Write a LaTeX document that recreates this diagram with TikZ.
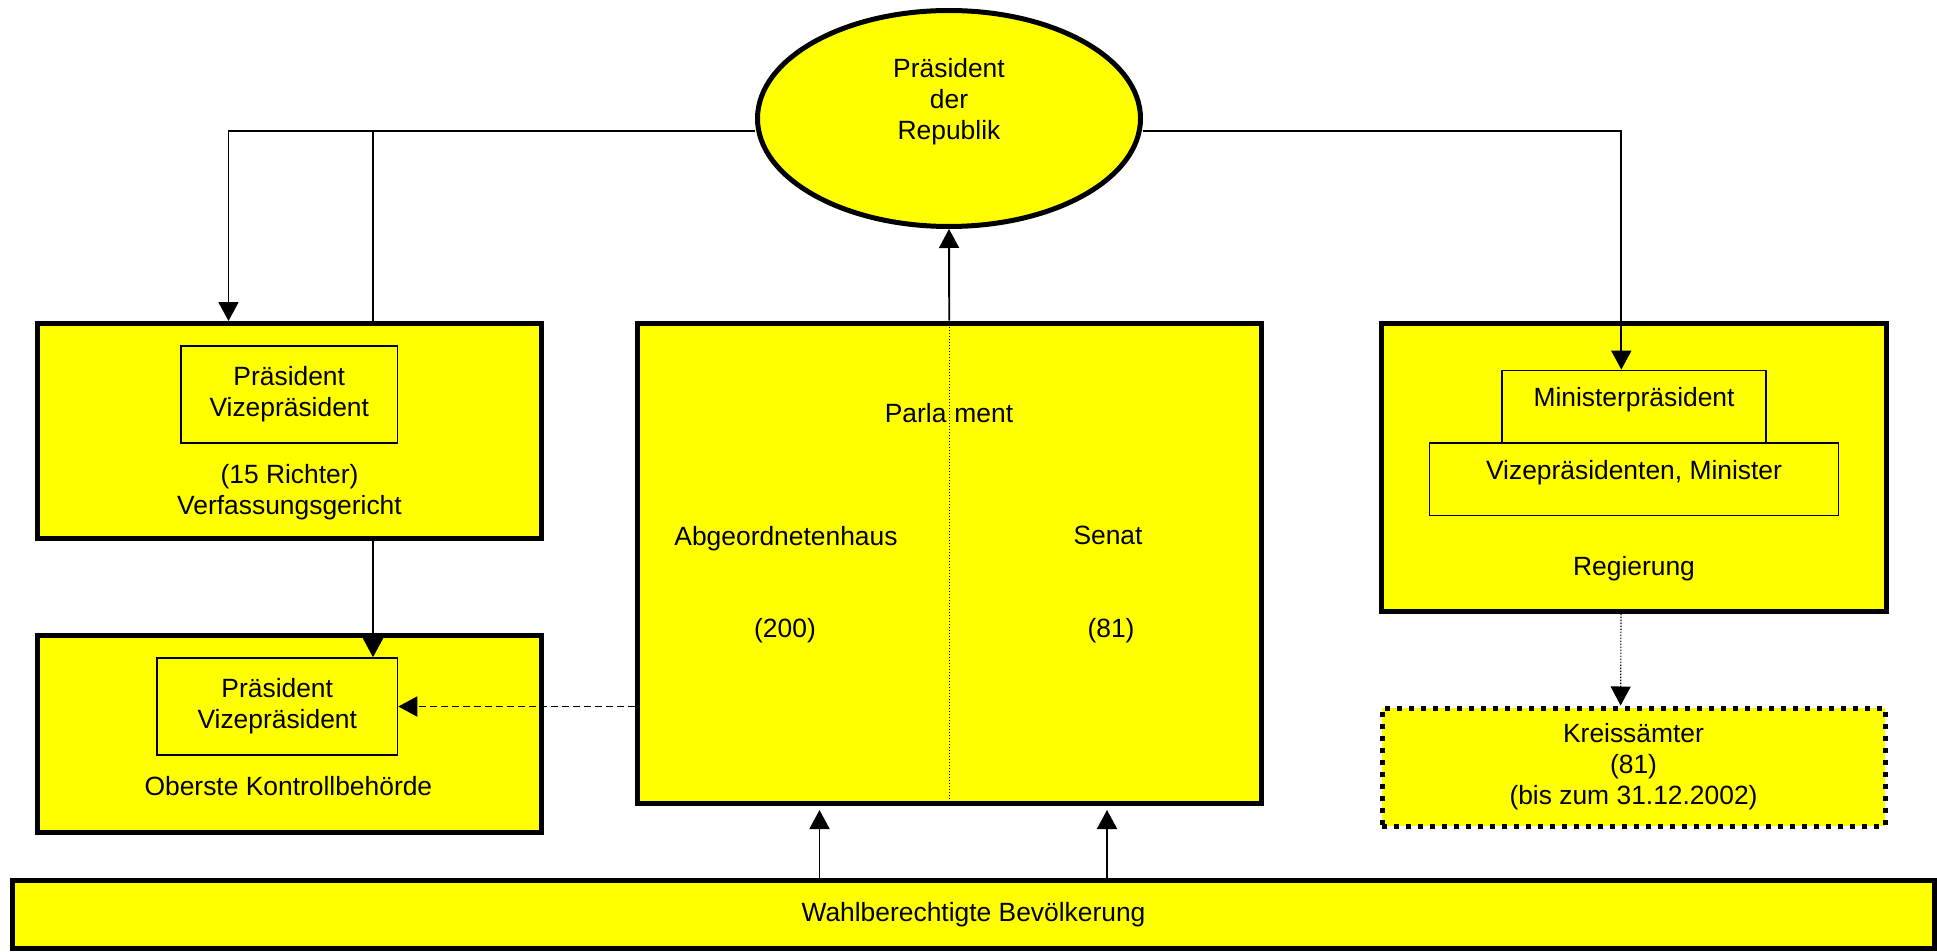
\documentclass[tikz,border=0pt]{standalone}
\usepackage{fontspec}
\setmainfont{Liberation Sans}
\usetikzlibrary{shapes.geometric,arrows.meta}

\definecolor{gelb}{RGB}{255,255,0}
\def\schrift{\fontsize{26.4}{31}\selectfont}

\tikzset{
  organ/.style={draw, line width=5pt, fill=gelb, inner sep=0pt},
  amt/.style={draw, line width=1.6pt, fill=gelb, inner sep=0pt},
  pfeil/.style={line width=1.9pt, -{Triangle[length=19pt,width=20pt]}},
  punkte/.style={line width=1.1pt, dash pattern=on 1.5pt off 1.5pt},
}

\begin{document}
\begin{tikzpicture}[x=1pt, y=-1pt, every node/.style={font=\schrift, align=center}]
      \useasboundingbox (0,0) rectangle (1937,952);
      \fill[white] (0,0) rectangle (1937,952);
      \node[organ, ellipse, minimum width=383pt, minimum height=216pt] (praes) at (949,118.5) {};
      \node (praestext) at (949,102) {Präsident\\der\\Republik};
      \node[organ, minimum width=504pt, minimum height=215pt] (verf) at (289.5,431) {};
      \node[amt, minimum width=216.5pt, minimum height=97pt] (verfpv) at (289.25,394.5) {Präsident\\Vizepräsident};
      \node (verftext) at (289.5,492.6) {(15 Richter)\\Verfassungsgericht};
      \node[organ, minimum width=504pt, minimum height=197pt] (kontr) at (289.5,734) {};
      \node[amt, minimum width=240.5pt, minimum height=97pt] (kontrpv) at (277.25,706.5) {Präsident\\Vizepräsident};
      \node (kontrtext) at (288.4,786) {Oberste Kontrollbehörde};
      \node[organ, minimum width=624.5pt, minimum height=480.5pt] (parl) at (949.25,563.25) {};
      \node (parltext) at (949,413.5) {Parla\kern8pt ment};
      \node (abg) at (786,538.3) {Abgeordnetenhaus};
      \node (senat) at (1108,535.7) {Senat};
      \node (abgzahl) at (785,630.6) {(200)};
      \node (senatzahl) at (1111,630.6) {(81)};
      \node[organ, minimum width=504.8pt, minimum height=287.8pt] (reg) at (1633.9,467.1) {};
      \node[amt, minimum width=264.2pt, minimum height=72.5pt] (mp) at (1633.8,406.65) {};
      \node[amt, minimum width=408.9pt, minimum height=72.5pt] (vize) at (1634,479.15) {};
      \node (mptext) at (1634,399.6) {Ministerpräsident};
      \node (vizetext) at (1634,472.2) {Vizepräsidenten, Minister};
      \node (regtext) at (1634,568.8) {Regierung};
      \node[draw, line width=5pt, dash pattern=on 5pt off 7pt, fill=gelb, minimum width=503pt, minimum height=118pt] (kreis) at (1633.5,767) {Kreissämter\\(81)\\(bis zum 31.12.2002)};
      \node[organ, minimum width=1922pt, minimum height=68pt] (wahl) at (973.5,914.5) {Wahlberechtigte Bevölkerung};
      \draw[pfeil] ([yshift=-12.5pt]praes.west) -| ([xshift=-61pt]verf.north);
      \draw[line width=1.9pt] ([xshift=83.5pt]verf.north) |- ([yshift=-12.5pt]praes.west);
      \draw[pfeil] ([yshift=-12.5pt]praes.east) -| ([xshift=-12.5pt]mp.north);
      \draw[pfeil] (parl.north) -- (praes.south);
      \draw[pfeil] ([xshift=83.5pt]verf.south) -- ([xshift=83.5pt]verf.south |- kontrpv.north);
      \draw[pfeil, dash pattern=on 7pt off 4pt] (kontrpv.east -| parl.west) -- (kontrpv.east);
      \draw[pfeil, shorten >=4pt] ([xshift=-129.75pt]parl.south |- wahl.north) -- ([xshift=-129.75pt]parl.south);
      \draw[pfeil, shorten >=4pt] ([xshift=157.75pt]parl.south |- wahl.north) -- ([xshift=157.75pt]parl.south);
      \draw[punkte] (parl.north) -- (parl.south);
      \draw[punkte, -{Triangle[length=19pt,width=20pt]}] ([xshift=-12.9pt]reg.south) -- ([xshift=-12.9pt]kreis.north);
\end{tikzpicture}
\end{document}
